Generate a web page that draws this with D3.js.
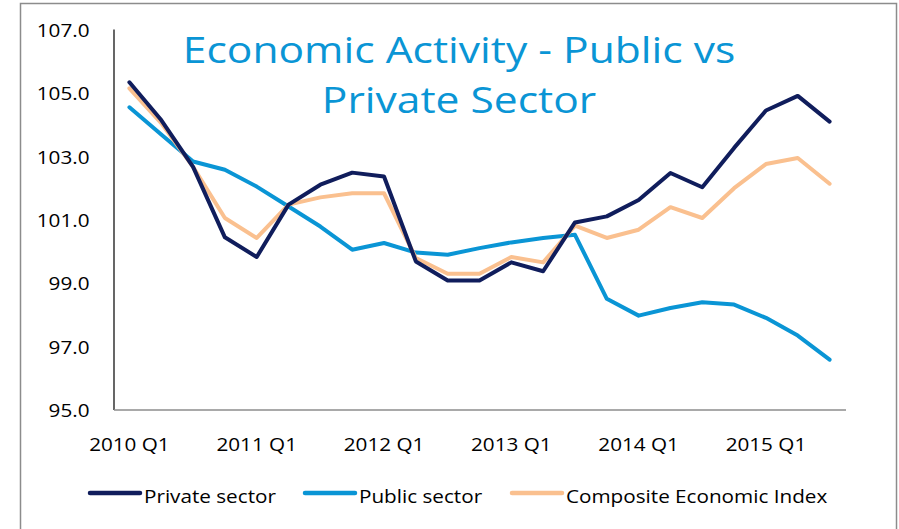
<!DOCTYPE html>
<html>
<head>
<meta charset="utf-8">
<script src="https://cdn.jsdelivr.net/npm/d3@7"></script>
<style>
  body { margin: 0; background: #fff; }
  svg text { font-family: "Open Sans", sans-serif; fill: #000; }
</style>
</head>
<body>
<svg width="899" height="529"></svg>
<script>
var quarters = ["2010 Q1","2010 Q2","2010 Q3","2010 Q4",
                "2011 Q1","2011 Q2","2011 Q3","2011 Q4",
                "2012 Q1","2012 Q2","2012 Q3","2012 Q4",
                "2013 Q1","2013 Q2","2013 Q3","2013 Q4",
                "2014 Q1","2014 Q2","2014 Q3","2014 Q4",
                "2015 Q1","2015 Q2","2015 Q3"];
var xTickLabels = ["2010 Q1","2011 Q1","2012 Q1","2013 Q1","2014 Q1","2015 Q1"];
var yTicks = [95, 97, 99, 101, 103, 105, 107];

var privateSector = [105.32, 104.13, 102.65, 100.43, 99.81, 101.46, 102.09, 102.47, 102.35,
                     99.67, 99.07, 99.07, 99.64, 99.36, 100.90, 101.09,
                     101.61, 102.46, 102.01, 103.25, 104.43, 104.89, 104.08];
var publicSector = [104.53, 103.67, 102.82, 102.56, 102.03, 101.40, 100.77, 100.04, 100.25,
                    99.95, 99.88, 100.09, 100.27, 100.41, 100.51, 98.49,
                    97.96, 98.20, 98.38, 98.31, 97.89, 97.33, 96.57];
var composite = [105.13, 104.03, 102.65, 101.04, 100.41, 101.46, 101.69, 101.82, 101.82,
                 99.78, 99.28, 99.28, 99.81, 99.64, 100.80, 100.41,
                 100.67, 101.38, 101.04, 101.98, 102.74, 102.93, 102.12];

var seriesNames = ["Private sector", "Public sector", "Composite Economic Index"];
var seriesColors = ["#101d5c", "#0a95d5", "#fac08f"];
var titleLines = ["Economic Activity - Public vs", "Private Sector"];

var svg = d3.select("svg");
var sx = 1.15; // text in the picture is a little stretched sideways

// outer frame
svg.append("rect")
    .attr("x", 20.5).attr("y", 3.5)
    .attr("width", 876).attr("height", 540)
    .attr("fill", "none")
    .attr("stroke", "#8c8c8c")
    .attr("stroke-width", 1.5);

var x = d3.scaleBand().domain(quarters).range([113.5, 845.5]);
var y = d3.scaleLinear().domain([95, 107]).range([409.5, 29]);

// y axis
var yAxis = svg.append("g")
    .attr("transform", "translate(113.5,0)")
    .call(d3.axisLeft(y).tickValues(yTicks).tickFormat(d3.format(".1f")).tickSize(0).tickPadding(0));
yAxis.select(".domain").attr("stroke", "#000").attr("stroke-width", 1.2);
yAxis.selectAll("text")
    .attr("x", -24 / sx)
    .attr("dy", "0.4em")
    .attr("transform", "scale(" + sx + ",1)")
    .style("font-size", "18px");

// x axis
var xAxis = svg.append("g")
    .attr("transform", "translate(0,409.5)")
    .call(d3.axisBottom(x).tickValues(xTickLabels).tickSize(0).tickPadding(0));
xAxis.select(".domain").attr("stroke", "#8c8c8c").attr("stroke-width", 1.5);
xAxis.selectAll("text")
    .attr("y", 42)
    .attr("dy", 0)
    .attr("transform", "scale(" + sx + ",1)")
    .style("font-size", "18px");

// lines
var line = d3.line()
    .x(function(d, i) { return x(quarters[i]) + x.bandwidth() / 2; })
    .y(function(d) { return y(d); });

var allSeries = [privateSector, publicSector, composite];
// draw order: public, composite, private (private on top where they meet)
[1, 2, 0].forEach(function(k) {
  svg.append("path")
      .datum(allSeries[k])
      .attr("fill", "none")
      .attr("stroke", seriesColors[k])
      .attr("stroke-width", 4)
      .attr("stroke-linejoin", "round")
      .attr("stroke-linecap", "round")
      .attr("d", line);
});

// title
var title = svg.append("g").attr("transform", "translate(459,0)");
title.selectAll("text")
    .data(titleLines)
    .enter().append("text")
      .attr("y", function(d, i) { return 63 + i * 50; })
      .attr("transform", "scale(" + sx + ",1)")
      .attr("text-anchor", "middle")
      .style("font-size", "37px")
      .style("fill", "#0a95d5")
      .text(function(d) { return d; });

// legend
var legendX = [90, 305, 512];
var legend = svg.selectAll(".legend")
    .data(seriesNames)
    .enter().append("g")
      .attr("class", "legend")
      .attr("transform", function(d, i) { return "translate(" + legendX[i] + ",493)"; });
legend.append("line")
    .attr("x1", 0).attr("x2", 50)
    .attr("stroke", function(d, i) { return seriesColors[i]; })
    .attr("stroke-width", 4.5)
    .attr("stroke-linecap", "round");
legend.append("text")
    .attr("x", 54 / sx)
    .attr("y", 9.5)
    .attr("transform", "scale(" + sx + ",1)")
    .style("font-size", "18px")
    .text(function(d) { return d; });
</script>
</body>
</html>
